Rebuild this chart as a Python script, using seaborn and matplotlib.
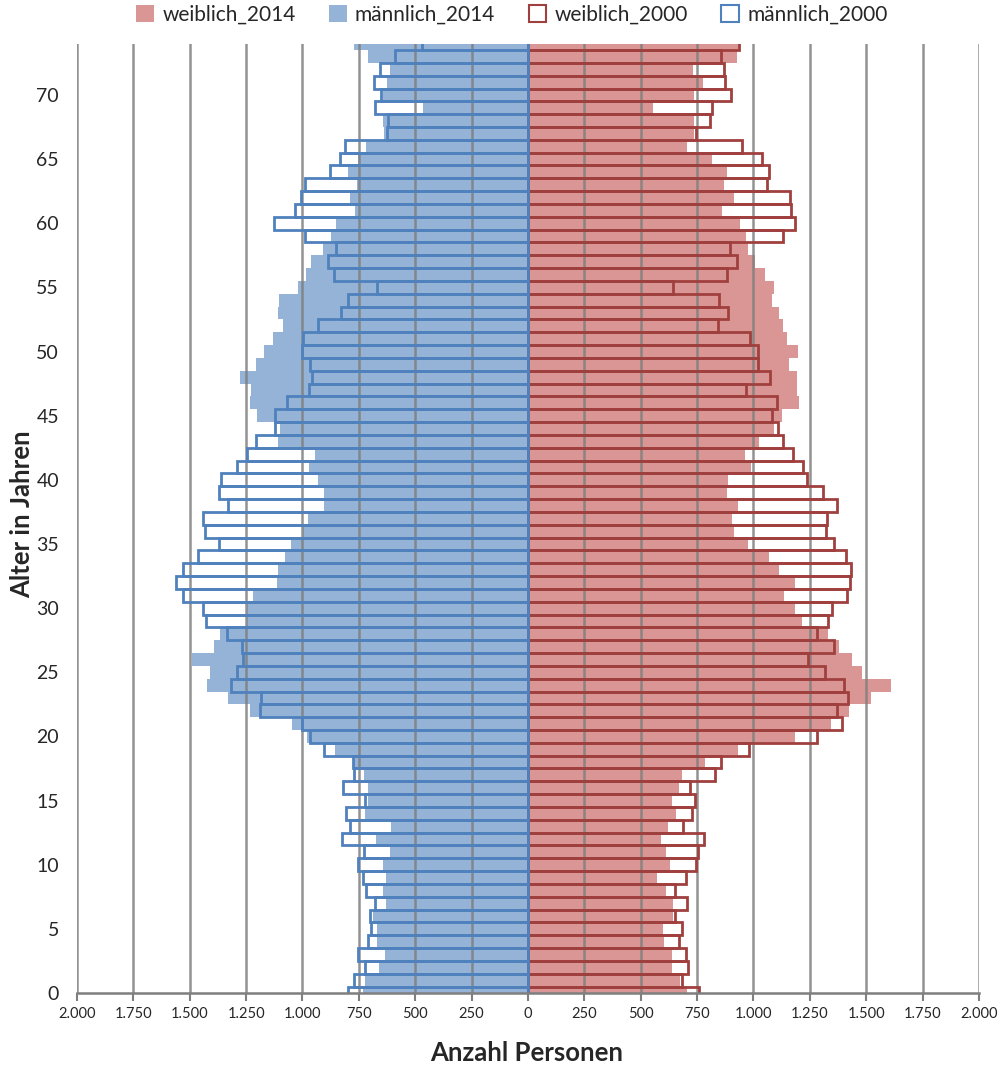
import numpy as np
import pandas as pd
import matplotlib
matplotlib.use("Agg")
import matplotlib.pyplot as plt
import seaborn as sns
from matplotlib.patches import Patch

# ---------------- data (ages 0..74) ----------------
ages = list(range(75))

male_2014 = [731, 721, 660, 632, 671, 668, 686, 629, 644, 629,
             644, 613, 674, 607, 721, 709, 709, 728, 770, 857,
             980, 1047, 1233, 1332, 1425, 1409, 1489, 1394, 1366, 1248,
             1248, 1218, 1115, 1107, 1076, 1051, 996, 974, 906, 906,
             930, 970, 945, 1110, 1100, 1202, 1233, 1229, 1279, 1205,
             1172, 1131, 1085, 1107, 1104, 1021, 984, 962, 908, 873,
             851, 765, 790, 758, 797, 755, 718, 637, 641, 466,
             641, 625, 612, 711, 770]

male_2000 = [799, 771, 721, 752, 708, 697, 702, 678, 719, 733,
             752, 727, 826, 789, 808, 725, 819, 770, 776, 906,
             968, 1004, 1190, 1184, 1319, 1289, 1263, 1270, 1337, 1430,
             1442, 1532, 1562, 1528, 1464, 1371, 1433, 1442, 1330, 1371,
             1363, 1291, 1245, 1205, 1122, 1124, 1069, 973, 959, 968,
             1000, 996, 933, 829, 798, 669, 860, 887, 850, 987,
             1125, 1035, 1005, 987, 878, 832, 810, 626, 622, 678,
             651, 684, 657, 591, 469]

female_2014 = [706, 674, 640, 640, 603, 600, 645, 643, 612, 571,
               628, 614, 589, 622, 655, 637, 669, 683, 783, 932,
               1185, 1345, 1423, 1520, 1610, 1483, 1436, 1380, 1332, 1217,
               1186, 1135, 1186, 1114, 1068, 976, 914, 906, 932, 884,
               886, 990, 961, 1026, 1092, 1126, 1201, 1192, 1192, 1157,
               1196, 1148, 1133, 1111, 1082, 1089, 1051, 1008, 976, 968,
               942, 862, 915, 871, 882, 817, 706, 735, 736, 556,
               736, 777, 733, 927, 942]

female_2000 = [758, 681, 708, 699, 668, 681, 650, 706, 652, 700,
               743, 755, 780, 687, 727, 742, 718, 831, 858, 980,
               1283, 1392, 1370, 1420, 1401, 1318, 1242, 1355, 1280, 1330,
               1347, 1413, 1426, 1433, 1410, 1357, 1320, 1325, 1371, 1310,
               1239, 1221, 1174, 1133, 1108, 1082, 1104, 967, 1074, 1018,
               1020, 986, 843, 886, 846, 645, 883, 929, 898, 1132,
               1186, 1165, 1163, 1061, 1068, 1038, 949, 745, 809, 817,
               901, 874, 868, 858, 937]

series_labels = ["weiblich_2014", "männlich_2014", "weiblich_2000", "männlich_2000"]
x_ticks = list(range(-2000, 2001, 250))
y_ticks = list(range(0, 71, 5))

# ---------------- style ----------------
sns.set_theme(style="white")
plt.rcParams['font.family'] = ['Lato', 'DejaVu Sans']

C_F14 = "#D99694"
C_M14 = "#95B3D7"
C_F00 = "#A0403E"
C_M00 = "#4F81BD"
GRID = "#7F7F7F"

df = pd.DataFrame({
    "age": ages,
    "m14": [-v for v in male_2014],
    "m00": [-v for v in male_2000],
    "f14": female_2014,
    "f00": female_2000,
})

fig = plt.figure(figsize=(10.04, 10.68), dpi=100)
ax = fig.add_axes([77 / 1004, 1 - 993 / 1068, (979 - 77) / 1004, (993 - 43.6) / 1068])

# filled 2014 bars
sns.barplot(data=df, x="f14", y="age", orient="y", native_scale=True, width=1.0,
            color=C_F14, saturation=1, linewidth=0, errorbar=None, ax=ax, zorder=1)
sns.barplot(data=df, x="m14", y="age", orient="y", native_scale=True, width=1.0,
            color=C_M14, saturation=1, linewidth=0, errorbar=None, ax=ax, zorder=1)

# grid lines
for v in x_ticks:
    ax.axvline(v, color=GRID, lw=1.8, alpha=0.85, zorder=1.5)

# outlined 2000 bars
sns.barplot(data=df, x="f00", y="age", orient="y", native_scale=True, width=1.0,
            color=C_F00, saturation=1, fill=False, linewidth=2, errorbar=None, ax=ax, zorder=2)
sns.barplot(data=df, x="m00", y="age", orient="y", native_scale=True, width=1.0,
            color=C_M00, saturation=1, fill=False, linewidth=2, errorbar=None, ax=ax, zorder=2)

ax.set_xlim(-2000, 2000)
ax.set_ylim(0, 74)

ax.set_xticks(x_ticks)
ax.set_xticklabels([f"{abs(v):,}".replace(",", ".") for v in x_ticks])
ax.set_yticks(y_ticks)
ax.set_yticklabels([str(v) for v in y_ticks])
ax.tick_params(axis="x", direction="out", length=6, width=1.5, color=GRID,
               labelsize=10.5, pad=4, bottom=True)
ax.tick_params(axis="y", length=0, labelsize=14, pad=13)

for s in ["left", "top", "right"]:
    ax.spines[s].set_visible(False)
ax.spines["bottom"].set_color(GRID)
ax.spines["bottom"].set_linewidth(1.8)
ax.spines["bottom"].set_zorder(3)

ax.set_xlabel("")
ax.set_ylabel("")
fig.text(22 / 1004, 1 - 514 / 1068, "Alter in Jahren", rotation=90, ha="center",
         va="center", fontsize=18.5, fontweight="bold")
fig.text(527 / 1004, 1 - 1053 / 1068, "Anzahl Personen", ha="center",
         va="center", fontsize=18.5, fontweight="bold")

handles = [
    Patch(facecolor=C_F14, edgecolor="none"),
    Patch(facecolor=C_M14, edgecolor="none"),
    Patch(facecolor="white", edgecolor=C_F00, linewidth=1.5),
    Patch(facecolor="white", edgecolor=C_M00, linewidth=1.5),
]
fig.legend(handles, series_labels, loc="center", bbox_to_anchor=(512 / 1004, 1 - 15 / 1068),
           ncol=4, frameon=False, fontsize=15, handlelength=0.85, handleheight=0.85,
           handletextpad=0.4, columnspacing=1.6)

fig.savefig("out.png", dpi=100)
